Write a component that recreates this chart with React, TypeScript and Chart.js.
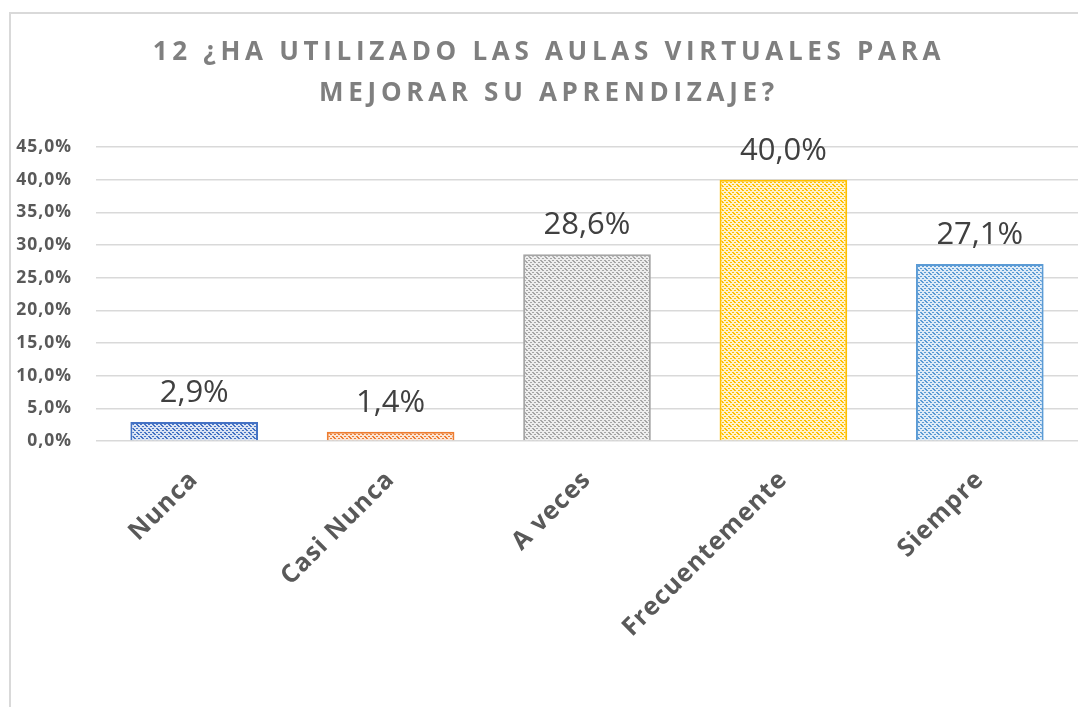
import { useEffect, useRef } from "react";
import { Chart, registerables } from "chart.js";

Chart.register(...registerables);

const categories = ["Nunca", "Casi Nunca", "A veces", "Frecuentemente", "Siempre"];
const values = [2.9, 1.4, 28.6, 40.0, 27.1];
const borderColors = ["#4472C4", "#ED7D31", "#A5A5A5", "#FFC000", "#5B9BD5"];
const lightColors = ["#DAE3F3", "#FBE5D6", "#EDEDED", "#FFF2CC", "#DEEBF7"];
const titleLines = ["12 ¿HA UTILIZADO LAS AULAS VIRTUALES PARA", "MEJORAR SU APRENDIZAJE?"];
const yMin = 0;
const yMax = 45;
const yStep = 5;

const fmt = (v: number) => v.toFixed(1).replace(".", ",") + "%";

function makePattern(bg: string, fg: string): CanvasPattern | string {
  const c = document.createElement("canvas");
  c.width = 8;
  c.height = 8;
  const g = c.getContext("2d");
  if (!g) return bg;
  g.fillStyle = bg;
  g.fillRect(0, 0, 8, 8);
  g.fillStyle = fg;
  for (let y = 0; y < 8; y++) {
    if (y % 4 !== 3) {
      g.fillRect(y % 8, y, 1, 1);
      g.fillRect((y + 1) % 8, y, 1, 1);
    }
    if (y % 2 === 0) {
      g.fillRect((y + 4) % 8, y, 1, 1);
      g.fillRect((y + 5) % 8, y, 1, 1);
    }
  }
  const p = g.createPattern(c, "repeat");
  return p || bg;
}

const titlePlugin = {
  id: "customTitle",
  beforeDraw(chart: any) {
    const ctx = chart.ctx as CanvasRenderingContext2D;
    ctx.save();
    (ctx as any).letterSpacing = "4.7px";
    ctx.font = "bold 26px 'Open Sans'";
    ctx.fillStyle = "#7F7F7F";
    ctx.textAlign = "center";
    ctx.textBaseline = "middle";
    ctx.fillText(titleLines[0], 549, 53);
    ctx.fillText(titleLines[1], 549, 94);
    ctx.restore();
    (ctx as any).letterSpacing = "1px";
  },
  afterDraw(chart: any) {
    (chart.ctx as any).letterSpacing = "0px";
  },
};

const labelPlugin = {
  id: "valueLabels",
  afterDatasetsDraw(chart: any) {
    const ctx = chart.ctx as CanvasRenderingContext2D;
    const meta = chart.getDatasetMeta(0);
    ctx.save();
    (ctx as any).letterSpacing = "0px";
    ctx.font = "31px 'Open Sans'";
    ctx.fillStyle = "#404040";
    ctx.textAlign = "center";
    ctx.textBaseline = "alphabetic";
    meta.data.forEach((bar: any, i: number) => {
      ctx.fillText(fmt(values[i]), bar.x, bar.y - 20);
    });
    ctx.restore();
  },
};

export default function App() {
  const ref = useRef<HTMLCanvasElement | null>(null);

  useEffect(() => {
    if (!ref.current) return;
    const patterns = lightColors.map((c, i) => makePattern(c, borderColors[i]));
    const chart = new Chart(ref.current, {
      type: "bar",
      data: {
        labels: categories,
        datasets: [
          {
            data: values,
            backgroundColor: patterns as any,
            borderColor: borderColors,
            borderWidth: 2,
            categoryPercentage: 1,
            barPercentage: 0.65,
          },
        ],
      },
      options: {
        animation: false,
        responsive: false,
        maintainAspectRatio: false,
        layout: { padding: { top: 147, left: 0, right: 0, bottom: 0 } },
        plugins: {
          legend: { display: false },
          title: { display: false },
          tooltip: { enabled: false },
        },
        scales: {
          x: {
            grid: { display: false },
            border: { display: false },
            ticks: {
              minRotation: 45,
              maxRotation: 45,
              padding: 16,
              color: "#595959",
              font: { family: "'Open Sans'", size: 25, weight: "bold" },
            },
            afterFit(scale: any) {
              scale.height = 266;
            },
          },
          y: {
            min: yMin,
            max: yMax,
            ticks: {
              stepSize: yStep,
              padding: 24,
              color: "#595959",
              font: { family: "'Open Sans'", size: 17.5, weight: "bold" },
              callback: (v: any) => fmt(Number(v)),
            },
            grid: { color: "#D9D9D9", lineWidth: 1.5, drawTicks: false },
            border: { display: false },
            afterFit(scale: any) {
              scale.width = 96;
            },
          },
        },
      },
      plugins: [titlePlugin, labelPlugin],
    });
    return () => chart.destroy();
  }, []);

  return (
    <div style={{ position: "absolute", left: 0, top: 0, width: 1078, height: 707, overflow: "hidden", background: "#fff" }}>
      <div
        style={{
          position: "absolute",
          left: 9,
          top: 12,
          width: 1200,
          height: 800,
          borderLeft: "2px solid #D9D9D9",
          borderTop: "2px solid #D9D9D9",
        }}
      />
      <canvas ref={ref} width={1078} height={707} style={{ position: "absolute", left: 0, top: 0 }} />
    </div>
  );
}
